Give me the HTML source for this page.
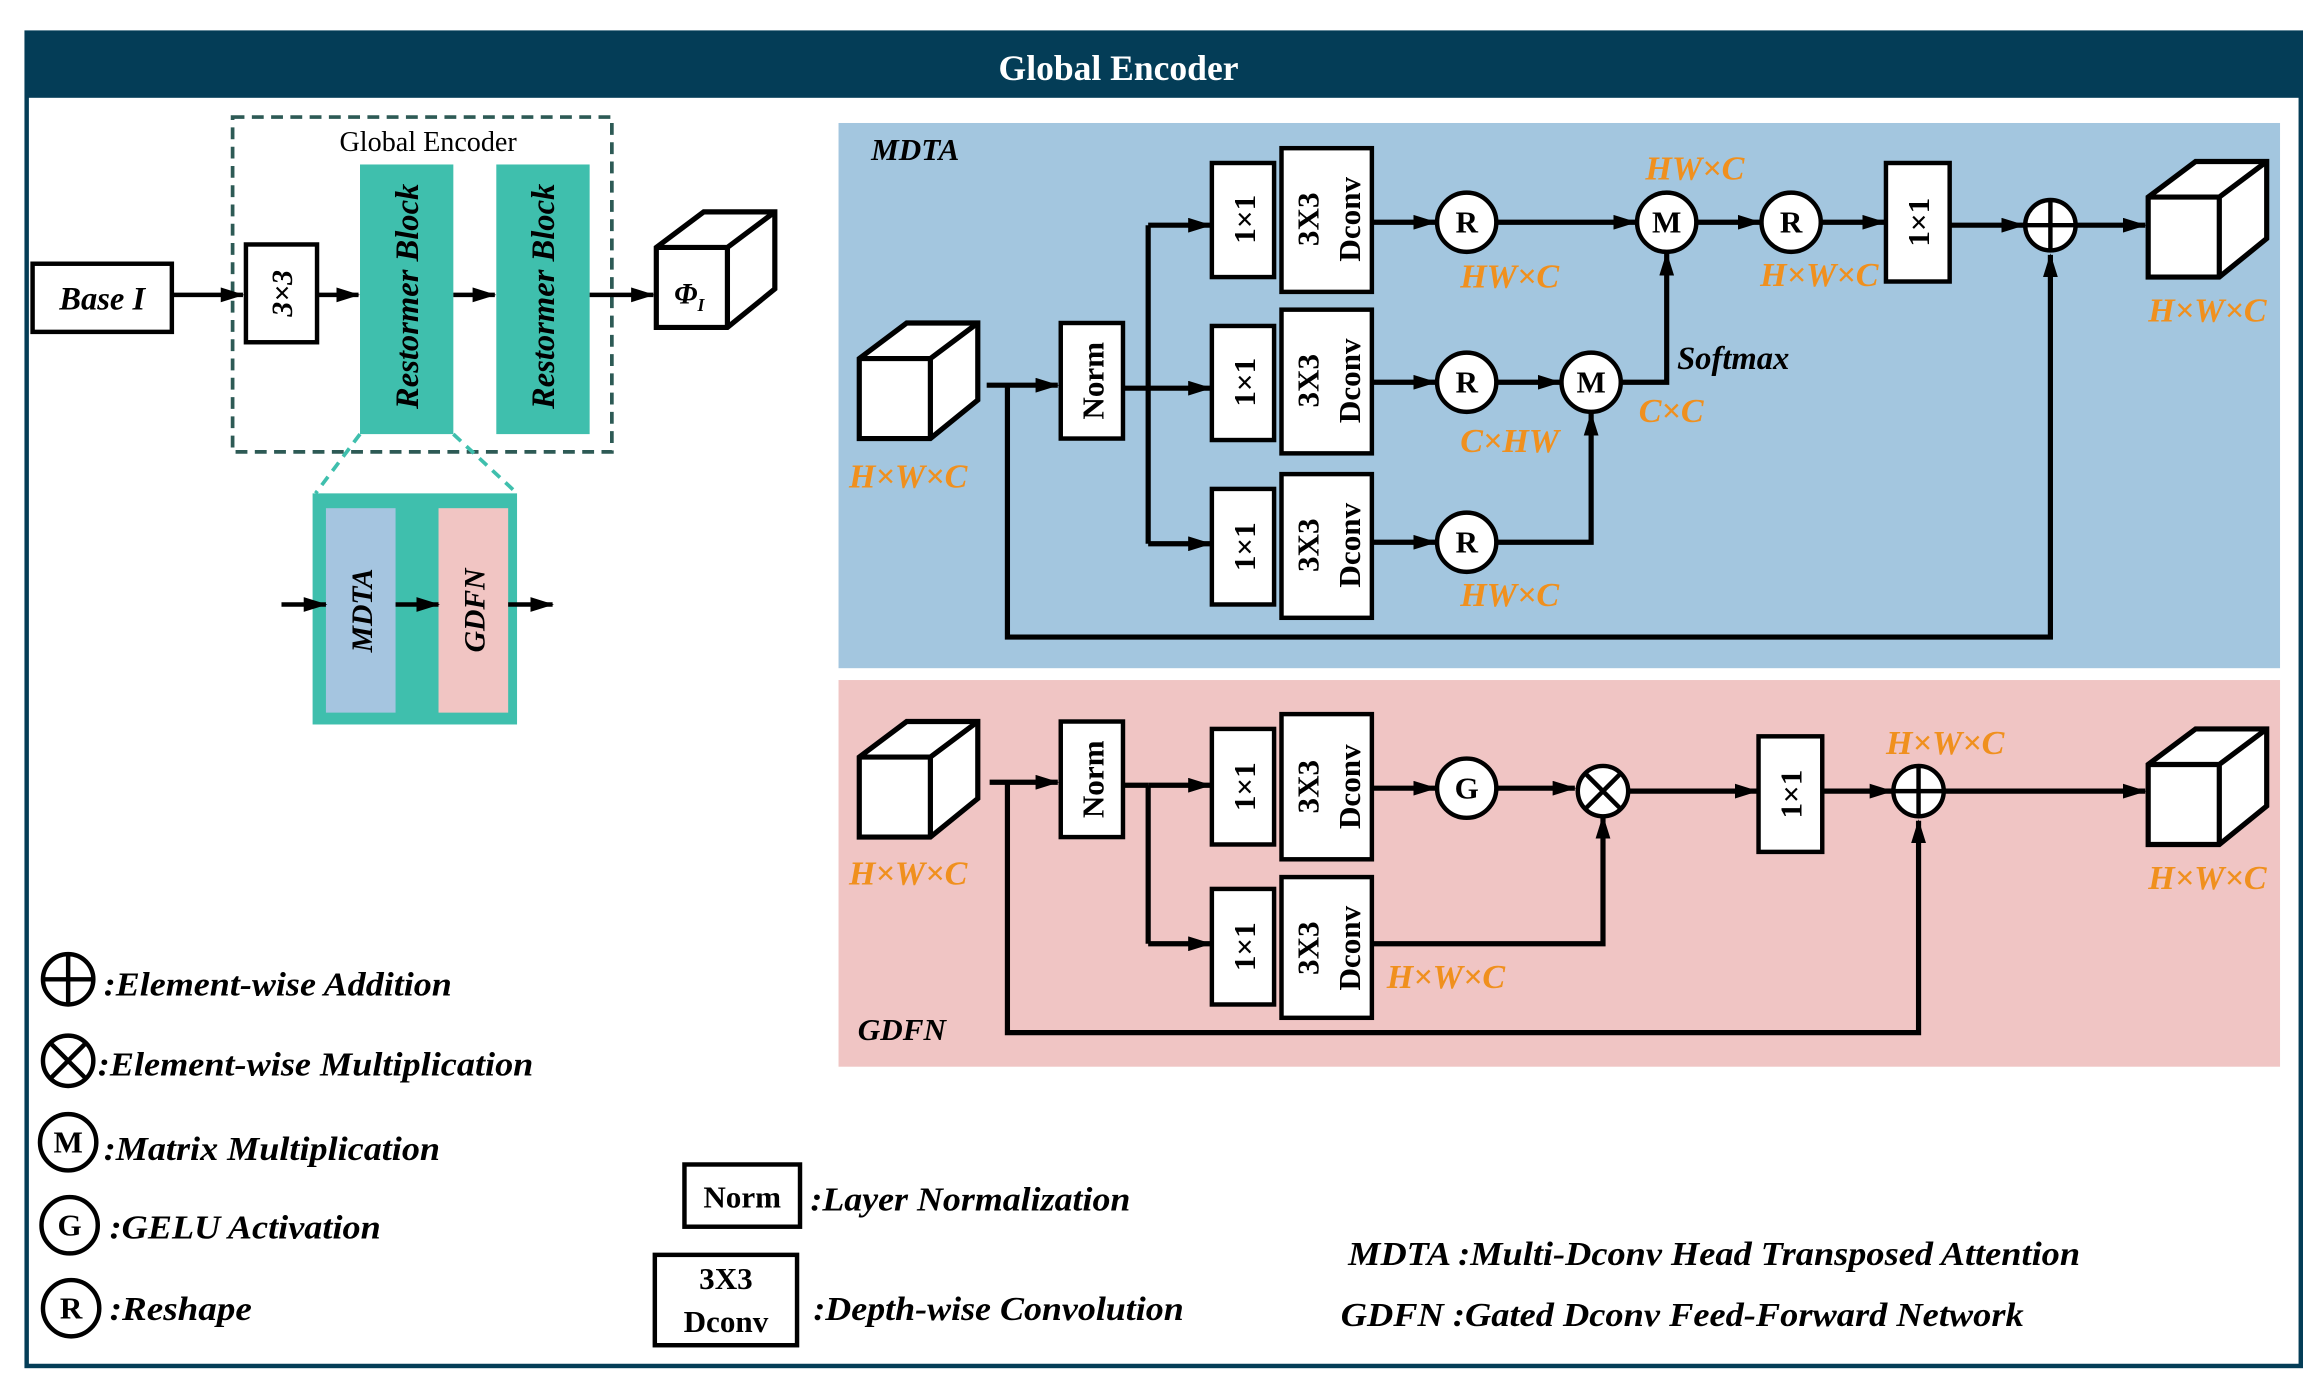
<!DOCTYPE html>
<html><head><meta charset="utf-8"><style>html,body{margin:0;padding:0;background:#fff}svg{display:block}svg text{font-family:"Liberation Serif","DejaVu Serif",serif}</style></head>
<body>
<svg width="2323" height="1398" viewBox="0 0 1568 943.6" xmlns="http://www.w3.org/2000/svg" font-family="'Liberation Serif', serif" font-weight="bold">
<defs>
<marker id="b" markerWidth="16" markerHeight="10" refX="15" refY="5" orient="auto" markerUnits="userSpaceOnUse"><path d="M0,0 L16,5 L0,10 Z" fill="#000"/></marker>
<g id="cube"><path d="M0,24 L32,0 L80,0 L80,52 L48,78 L0,78 Z" fill="#fff" stroke="#000" stroke-width="3.5"/><path d="M0,24 L48,24 L48,78 M48,24 L80,0" fill="none" stroke="#000" stroke-width="3.5"/></g>
</defs>
<rect width="1568" height="943.6" fill="#fff"/>
<rect x="18" y="22" width="1535" height="900" fill="none" stroke="#043d57" stroke-width="3"/>
<rect x="18" y="22" width="1535" height="44" fill="#043d57"/>
<text x="755" y="54" fill="#fff" font-size="24" text-anchor="middle">Global Encoder</text>

<rect x="157" y="79" width="256" height="226" fill="none" stroke="#2d5a55" stroke-width="2.5" stroke-dasharray="8,5"/>
<text x="289" y="102" font-size="19" font-weight="normal" text-anchor="middle">Global Encoder</text>
<rect x="22" y="178" width="94" height="46" fill="#fff" stroke="#000" stroke-width="3"/>
<text x="69" y="209" font-size="22" font-style="italic" text-anchor="middle">Base I</text>
<line x1="116" y1="199" x2="164" y2="199" stroke="#000" stroke-width="3" marker-end="url(#b)"/>
<rect x="166" y="165" width="48" height="66" fill="#fff" stroke="#000" stroke-width="3"/>
<text transform="translate(197,198) rotate(-90)" font-size="20" font-style="italic" text-anchor="middle">3×3</text>
<line x1="214" y1="199" x2="242" y2="199" stroke="#000" stroke-width="3" marker-end="url(#b)"/>
<rect x="243" y="111" width="63" height="182" fill="#3fbfad"/>
<rect x="335" y="111" width="63" height="182" fill="#3fbfad"/>
<text transform="translate(282,200) rotate(-90)" font-size="22" font-style="italic" text-anchor="middle">Restormer Block</text>
<text transform="translate(374,200) rotate(-90)" font-size="22" font-style="italic" text-anchor="middle">Restormer Block</text>
<line x1="306" y1="199" x2="334" y2="199" stroke="#000" stroke-width="3" marker-end="url(#b)"/>
<line x1="398" y1="199" x2="441" y2="199" stroke="#000" stroke-width="3" marker-end="url(#b)"/>
<use href="#cube" transform="translate(443,143)"/>
<text x="455" y="205" font-size="20" font-style="italic">Φ<tspan font-size="12" dy="5">I</tspan></text>
<line x1="243" y1="293" x2="213" y2="333" stroke="#3fbfad" stroke-width="2.5" stroke-dasharray="7,5"/>
<line x1="306" y1="293" x2="349" y2="333" stroke="#3fbfad" stroke-width="2.5" stroke-dasharray="7,5"/>
<rect x="211" y="333" width="138" height="156" fill="#3fbfad"/>
<rect x="220" y="343" width="47" height="138" fill="#a5c5e0"/>
<rect x="296" y="343" width="47" height="138" fill="#f1c5c3"/>
<text transform="translate(251,412) rotate(-90)" font-size="20" font-style="italic" text-anchor="middle">MDTA</text>
<text transform="translate(327,412) rotate(-90)" font-size="20" font-style="italic" text-anchor="middle">GDFN</text>
<line x1="190" y1="408" x2="220" y2="408" stroke="#000" stroke-width="3" marker-end="url(#b)"/>
<line x1="267" y1="408" x2="296" y2="408" stroke="#000" stroke-width="3" marker-end="url(#b)"/>
<line x1="343" y1="408" x2="373" y2="408" stroke="#000" stroke-width="3" marker-end="url(#b)"/>

<rect x="566" y="83" width="973" height="368" fill="#a3c6df"/>
<text x="588" y="108" font-size="21" font-style="italic">MDTA</text>
<g stroke="#000" stroke-width="3.5" fill="none">
<polyline points="680,260 680,430 1384,430 1384,172" marker-end="url(#b)"/>
<line x1="666" y1="260" x2="714" y2="260" marker-end="url(#b)"/>
<line x1="758" y1="262" x2="775" y2="262"/>
<line x1="775" y1="152" x2="775" y2="367"/>
<line x1="775" y1="152" x2="817" y2="152" marker-end="url(#b)"/>
<line x1="775" y1="262" x2="817" y2="262" marker-end="url(#b)"/>
<line x1="775" y1="367" x2="817" y2="367" marker-end="url(#b)"/>
<line x1="926" y1="150" x2="969" y2="150" marker-end="url(#b)"/>
<line x1="926" y1="258" x2="969" y2="258" marker-end="url(#b)"/>
<line x1="926" y1="366" x2="969" y2="366" marker-end="url(#b)"/>
<line x1="1010" y1="150" x2="1104" y2="150" marker-end="url(#b)"/>
<line x1="1145" y1="150" x2="1188" y2="150" marker-end="url(#b)"/>
<line x1="1229" y1="150" x2="1272" y2="150" marker-end="url(#b)"/>
<line x1="1316" y1="152" x2="1366" y2="152" marker-end="url(#b)"/>
<line x1="1401" y1="152" x2="1448" y2="152" marker-end="url(#b)"/>
<line x1="1010" y1="258" x2="1053" y2="258" marker-end="url(#b)"/>
<polyline points="1094,258 1125,258 1125,171" marker-end="url(#b)"/>
<polyline points="1010,366 1074,366 1074,279" marker-end="url(#b)"/>
</g>
<use href="#cube" transform="translate(580,218)"/>
<use href="#cube" transform="translate(1450,109)"/>
<g fill="#fff" stroke="#000" stroke-width="3">
<rect x="716" y="218" width="42" height="78"/>
<rect x="818" y="110" width="42" height="77"/><rect x="865" y="100" width="61" height="97"/>
<rect x="818" y="220" width="42" height="77"/><rect x="865" y="209" width="61" height="97"/>
<rect x="818" y="330" width="42" height="78"/><rect x="865" y="320" width="61" height="97"/>
<rect x="1273" y="110" width="43" height="80"/>
<circle cx="990" cy="150" r="20"/><circle cx="990" cy="258" r="20"/><circle cx="990" cy="366" r="20"/>
<circle cx="1125" cy="150" r="20"/><circle cx="1074" cy="258" r="20"/><circle cx="1209" cy="150" r="20"/>
<circle cx="1384" cy="152" r="17"/>
</g>
<path d="M1367,152 H1401 M1384,135 V169" stroke="#000" stroke-width="3"/>
<g font-size="21" text-anchor="middle">
<text transform="translate(745,257) rotate(-90)">Norm</text>
<text transform="translate(847,148) rotate(-90)">1×1</text>
<text transform="translate(847,258) rotate(-90)">1×1</text>
<text transform="translate(847,369) rotate(-90)">1×1</text>
<text transform="translate(1302,150) rotate(-90)">1×1</text>
<text transform="translate(890,148) rotate(-90)">3X3</text><text transform="translate(918,148) rotate(-90)">Dconv</text>
<text transform="translate(890,257) rotate(-90)">3X3</text><text transform="translate(918,257) rotate(-90)">Dconv</text>
<text transform="translate(890,368) rotate(-90)">3X3</text><text transform="translate(918,368) rotate(-90)">Dconv</text>
<text x="990" y="157">R</text><text x="990" y="265">R</text><text x="990" y="373">R</text>
<text x="1209" y="157">R</text><text x="1125" y="157">M</text><text x="1074" y="265">M</text>
</g>
<g font-size="23" font-style="italic" fill="#f0901e" text-anchor="middle">
<text x="1144" y="121">HW×C</text><text x="1019" y="194">HW×C</text><text x="1228" y="193">H×W×C</text>
<text x="1019" y="305">C×HW</text><text x="1128" y="285">C×C</text><text x="1019" y="409">HW×C</text>
<text x="1490" y="217">H×W×C</text><text x="613" y="329">H×W×C</text>
</g>
<text x="1132" y="249" font-size="22" font-style="italic">Softmax</text>

<rect x="566" y="459" width="973" height="261" fill="#f0c5c4"/>
<text x="579" y="702" font-size="21" font-style="italic">GDFN</text>
<g stroke="#000" stroke-width="3.5" fill="none">
<polyline points="680,528 680,697 1295,697 1295,554" marker-end="url(#b)"/>
<line x1="668" y1="528" x2="714" y2="528" marker-end="url(#b)"/>
<line x1="758" y1="530" x2="775" y2="530"/>
<line x1="775" y1="530" x2="775" y2="637"/>
<line x1="775" y1="530" x2="817" y2="530" marker-end="url(#b)"/>
<line x1="775" y1="637" x2="817" y2="637" marker-end="url(#b)"/>
<line x1="926" y1="532" x2="969" y2="532" marker-end="url(#b)"/>
<line x1="1010" y1="532" x2="1063" y2="532" marker-end="url(#b)"/>
<line x1="1099" y1="534" x2="1186" y2="534" marker-end="url(#b)"/>
<line x1="1230" y1="534" x2="1277" y2="534" marker-end="url(#b)"/>
<line x1="1312" y1="534" x2="1448" y2="534" marker-end="url(#b)"/>
<polyline points="926,637 1082,637 1082,551" marker-end="url(#b)"/>
</g>
<use href="#cube" transform="translate(580,487)"/>
<use href="#cube" transform="translate(1450,492)"/>
<g fill="#fff" stroke="#000" stroke-width="3">
<rect x="716" y="487" width="42" height="78"/>
<rect x="818" y="492" width="42" height="78"/><rect x="865" y="482" width="61" height="98"/>
<rect x="818" y="600" width="42" height="78"/><rect x="865" y="592" width="61" height="95"/>
<rect x="1187" y="497" width="43" height="78"/>
<circle cx="990" cy="532" r="20"/><circle cx="1082" cy="534" r="17"/><circle cx="1295" cy="534" r="17"/>
</g>
<path d="M1278,534 H1312 M1295,517 V551 M1070,522 L1094,546 M1094,522 L1070,546" stroke="#000" stroke-width="3"/>
<g font-size="21" text-anchor="middle">
<text transform="translate(745,526) rotate(-90)">Norm</text>
<text transform="translate(847,531) rotate(-90)">1×1</text>
<text transform="translate(847,639) rotate(-90)">1×1</text>
<text transform="translate(1216,536) rotate(-90)">1×1</text>
<text transform="translate(890,531) rotate(-90)">3X3</text><text transform="translate(918,531) rotate(-90)">Dconv</text>
<text transform="translate(890,640) rotate(-90)">3X3</text><text transform="translate(918,640) rotate(-90)">Dconv</text>
<text x="990" y="539">G</text>
</g>
<g font-size="23" font-style="italic" fill="#f0901e" text-anchor="middle">
<text x="1313" y="509">H×W×C</text><text x="976" y="667">H×W×C</text><text x="1490" y="600">H×W×C</text><text x="613" y="597">H×W×C</text>
</g>

<g fill="#fff" stroke="#000" stroke-width="3">
<circle cx="46" cy="661" r="17"/><circle cx="46" cy="716" r="17"/><circle cx="46" cy="771" r="19"/><circle cx="47" cy="827" r="19"/><circle cx="48" cy="883" r="19"/>
<rect x="462" y="786" width="78" height="42"/><rect x="442" y="847" width="96" height="61"/>
</g>
<path d="M29,661 H63 M46,644 V678 M34,704 L58,728 M58,704 L34,728" stroke="#000" stroke-width="3"/>
<g font-size="21" text-anchor="middle">
<text x="46" y="778">M</text><text x="47" y="834">G</text><text x="48" y="890">R</text>
<text x="501" y="815">Norm</text><text x="490" y="870">3X3</text><text x="490" y="899">Dconv</text>
</g>
<g font-size="23" font-style="italic">
<text x="70" y="672" textLength="235" lengthAdjust="spacingAndGlyphs">:Element-wise Addition</text>
<text x="66" y="726" textLength="294" lengthAdjust="spacingAndGlyphs">:Element-wise Multiplication</text>
<text x="70" y="783" textLength="227" lengthAdjust="spacingAndGlyphs">:Matrix Multiplication</text>
<text x="74" y="836" textLength="183" lengthAdjust="spacingAndGlyphs">:GELU Activation</text>
<text x="74" y="891" textLength="96" lengthAdjust="spacingAndGlyphs">:Reshape</text>
<text x="547" y="817" textLength="216" lengthAdjust="spacingAndGlyphs">:Layer Normalization</text>
<text x="549" y="891" textLength="250" lengthAdjust="spacingAndGlyphs">:Depth-wise Convolution</text>
<text x="910" y="854" textLength="494" lengthAdjust="spacingAndGlyphs">MDTA  :Multi-Dconv Head Transposed Attention</text>
<text x="905" y="895" textLength="461" lengthAdjust="spacingAndGlyphs">GDFN  :Gated Dconv Feed-Forward Network</text>
</g>
</svg>
</body></html>
